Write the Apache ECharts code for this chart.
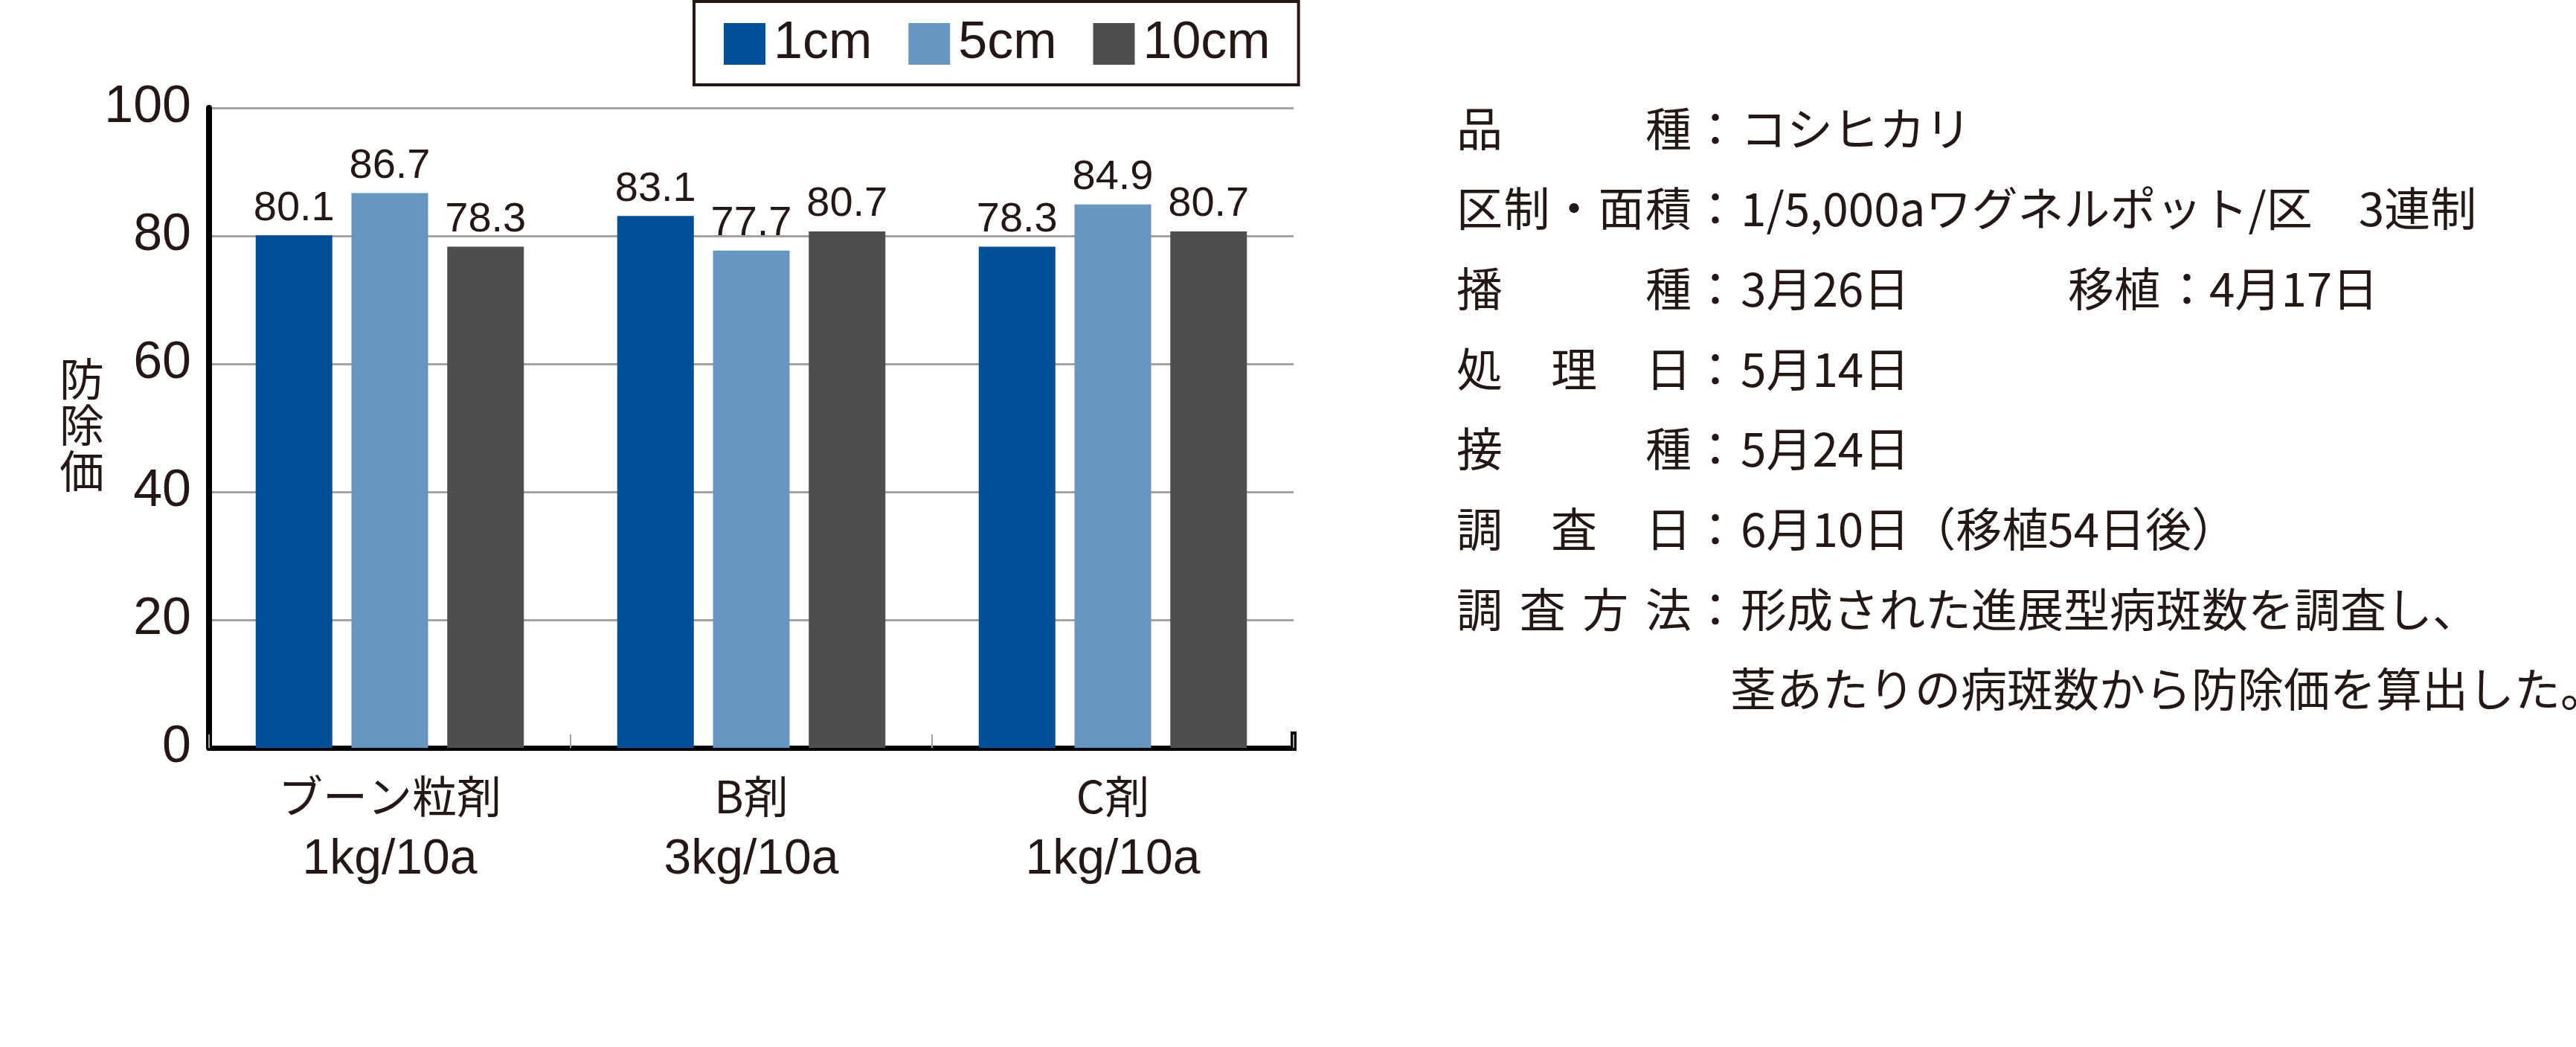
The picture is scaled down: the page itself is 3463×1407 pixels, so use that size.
<!DOCTYPE html>
<html><head><meta charset="utf-8">
<script src="https://cdn.jsdelivr.net/npm/echarts@6/dist/echarts.min.js"></script>
<style>html,body{margin:0;padding:0;background:#fff;}#c{width:3463px;height:1407px;}</style>
</head><body><div id="c"></div>
<script>
// ---- data ----
const categories = ['ブーン粒剤', 'B剤', 'C剤'];
const doses = ['1kg/10a', '3kg/10a', '1kg/10a'];
const seriesNames = ['1cm', '5cm', '10cm'];
const values1cm = [80.1, 83.1, 78.3];
const values5cm = [86.7, 77.7, 84.9];
const values10cm = [78.3, 80.7, 80.7];
const yMin = 0, yMax = 100, yInterval = 20;
const yTitle = '防除価';
const infoLabels = ['品種', '区制・面積', '播種', '処理日', '接種', '調査日', '調査方法', ''];
const infoValues = ['コシヒカリ', '1/5,000aワグネルポット/区　3連制', '3月26日', '5月14日', '5月24日',
  '6月10日（移植54日後）', '形成された進展型病斑数を調査し、', '茎あたりの病斑数から防除価を算出した。'];
const infoExtraLabel = '移植';
const infoExtraValue = '4月17日';

// ---- style ----
const colors = ['#004f97', '#6796c0', '#4e4e4e'];
const ink = '#231815';
const latin = "'Liberation Sans',Arial,sans-serif";
const jp = "'Noto Sans CJK JP','Noto Sans CJK SC',sans-serif";
const G = {left: 281, top: 145, right: 3463 - 1739, bottom: 1407 - 1005};

const chart = echarts.init(document.getElementById('c'));
const seriesVals = [values1cm, values5cm, values10cm];

const graphics = [];
// y title (vertical)
graphics.push({type: 'text', left: 80, top: 478, style: {text: yTitle.split('').join('\n'), font: '60px ' + jp, lineHeight: 62, fill: ink}});
// right-end axis tick
graphics.push({type: 'rect', shape: {x: 3463 - G.right - 4, y: 1407 - G.bottom - 22, width: 8, height: 26}, style: {fill: '#000'}});

// info block
const lx0 = 1958, lx1 = 2275, cellW = 63, fs = 62, vfs = 62;
const lineY0 = 173, lineStep = 107.7;
infoLabels.forEach((lab, i) => {
  const y = lineY0 + i * lineStep;
  const chars = lab.split('');
  const n = chars.length;
  chars.forEach((ch, k) => {
    const x = n > 1 ? lx0 + k * (lx1 - lx0 - cellW) / (n - 1) : lx0;
    graphics.push({type: 'text', x: x, y: y, style: {text: ch, font: fs + 'px ' + jp, fill: ink, textVerticalAlign: 'middle'}});
  });
  if (lab) graphics.push({type: 'text', x: 2306, y: y, style: {text: '：', font: fs + 'px ' + jp, fill: ink, textAlign: 'center', textVerticalAlign: 'middle'}});
  graphics.push({type: 'text', x: lab ? 2340 : 2326, y: y, style: {text: infoValues[i], font: vfs + 'px ' + jp, fill: ink, textVerticalAlign: 'middle'}});
});
{
  const y = lineY0 + 2 * lineStep;
  graphics.push({type: 'text', x: 2780, y: y, style: {text: infoExtraLabel, font: fs + 'px ' + jp, fill: ink, textVerticalAlign: 'middle'}});
  graphics.push({type: 'text', x: 2940, y: y, style: {text: '：', font: fs + 'px ' + jp, fill: ink, textAlign: 'center', textVerticalAlign: 'middle'}});
  graphics.push({type: 'text', x: 2970, y: y, style: {text: infoExtraValue, font: vfs + 'px ' + jp, fill: ink, textVerticalAlign: 'middle'}});
}

chart.setOption({
  animation: false,
  backgroundColor: '#fff',
  grid: {left: G.left, top: G.top, right: G.right, bottom: G.bottom, containLabel: false},
  legend: {
    data: seriesNames, left: 933, top: 2, orient: 'horizontal',
    icon: 'rect', itemWidth: 56, itemHeight: 56, itemGap: 49,
    padding: [22, 38, 20, 40],
    borderColor: '#231815', borderWidth: 4,
    textStyle: {fontSize: 70, fontFamily: latin, color: ink, padding: [0, 0, 0, 6]}
  },
  xAxis: {
    type: 'category', data: categories.map((c, i) => c + '\n' + doses[i]),
    axisLine: {show: true, lineStyle: {color: '#000', width: 7}},
    axisTick: {show: true, inside: true, length: 18, lineStyle: {color: '#a0a0a0', width: 2}},
    axisLabel: {
      margin: 22,
      formatter: v => { const p = v.split('\n'); return '{a|' + p[0] + '}\n{b|' + p[1] + '}'; },
      rich: {
        a: {fontSize: 60, fontFamily: jp, color: ink, lineHeight: 86},
        b: {fontSize: 66, fontFamily: latin, color: ink, lineHeight: 86}
      }
    }
  },
  yAxis: {
    type: 'value', min: yMin, max: yMax, interval: yInterval,
    axisLine: {show: true, lineStyle: {color: '#000', width: 8}},
    axisTick: {show: false},
    axisLabel: {margin: 24, fontSize: 70, fontFamily: latin, color: ink},
    splitLine: {show: true, lineStyle: {color: '#a3a3a3', width: 3}}
  },
  series: seriesNames.map((nm, i) => ({
    name: nm, type: 'bar', data: seriesVals[i], barWidth: 103, barGap: '25%',
    itemStyle: {color: colors[i]},
    label: {show: true, position: 'top', distance: 8, fontSize: 56, fontFamily: latin, color: ink,
      formatter: p => p.value.toFixed(1)}
  })),
  graphic: graphics
});
</script></body></html>
